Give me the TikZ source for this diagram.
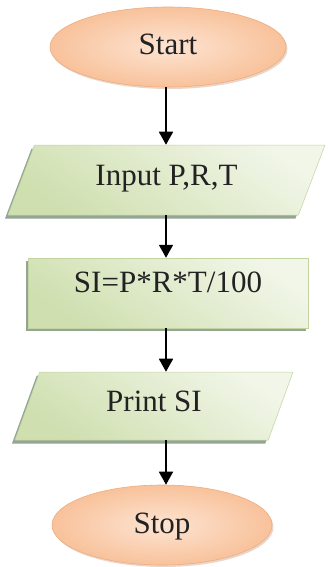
\documentclass[tikz,border=0pt]{standalone}
\usepackage{fontspec}
\setmainfont{Liberation Serif}
\usetikzlibrary{shapes.geometric,arrows.meta,shadows}

\definecolor{peachedge}{HTML}{F0AC7E}
\definecolor{peachdark}{HTML}{F8C29B}
\definecolor{peachlight}{HTML}{FDE4D2}
\definecolor{greendark}{HTML}{CFDFAF}
\definecolor{greenlight}{HTML}{F1F6E8}
\definecolor{greenedge}{HTML}{C2D49F}
\definecolor{inktext}{HTML}{222222}

\tikzset{
  flowtext/.style={font=\fontsize{31}{37}\selectfont, text=inktext,
    inner sep=0pt, text height=20pt},
  terminal/.style={flowtext, ellipse, draw=peachedge, line width=0.6pt,
    inner color=peachlight, outer color=peachdark, text depth=4pt,
    drop shadow={shadow xshift=1.5pt, shadow yshift=-2pt, opacity=0.35, fill=peachedge!80!black}},
  iobox/.style={flowtext, trapezium, trapezium stretches body,
    draw=greenedge, line width=0.5pt,
    top color=greenlight, bottom color=greendark, shading angle=-35,
    text depth=10pt,
    drop shadow={shadow xshift=-3pt, shadow yshift=-3.5pt, opacity=0.55, fill=gray!80!green!60!black}},
  procbox/.style={flowtext, rectangle, draw=greenedge, line width=0.5pt,
    top color=greenlight, bottom color=greendark, shading angle=-35,
    text depth=22pt,
    drop shadow={shadow xshift=-2pt, shadow yshift=-3pt, opacity=0.55, fill=gray!80!green!60!black}},
  flowarrow/.style={line width=1.8pt, black,
    -{Triangle[length=13pt,width=14pt]}}
}

\begin{document}
\begin{tikzpicture}[x=1pt,y=-1pt]
  \useasboundingbox (0,0) rectangle (327,567);
  \fill[white] (0,0) rectangle (327,567);

  \coordinate (axis) at (166,0);

  \node[terminal, minimum width=236pt, minimum height=80pt] (start) at (168,47) {Start};
  \node[iobox, trapezium left angle=48.5, trapezium right angle=131.5,
        minimum width=317pt, minimum height=70pt] (input) at (166.5,180) {Input P,R,T};
  \node[procbox, minimum width=280pt, minimum height=70pt] (calc) at (168,293) {SI=P*R*T/100};
  \node[iobox, trapezium left angle=50.5, trapezium right angle=129.5,
        minimum width=278pt, minimum height=68pt] (print) at (154,406) {Print SI};
  \node[terminal, minimum width=220pt, minimum height=80pt] (stop) at (162,525) {Stop};

  \draw[flowarrow] (start.south -| axis) -- (input.north -| axis);
  \draw[flowarrow] (input.south -| axis) -- (calc.north -| axis);
  \draw[flowarrow] (calc.south -| axis) -- (print.north -| axis);
  \draw[flowarrow] (print.south -| axis) -- (stop.north -| axis);
\end{tikzpicture}
\end{document}
